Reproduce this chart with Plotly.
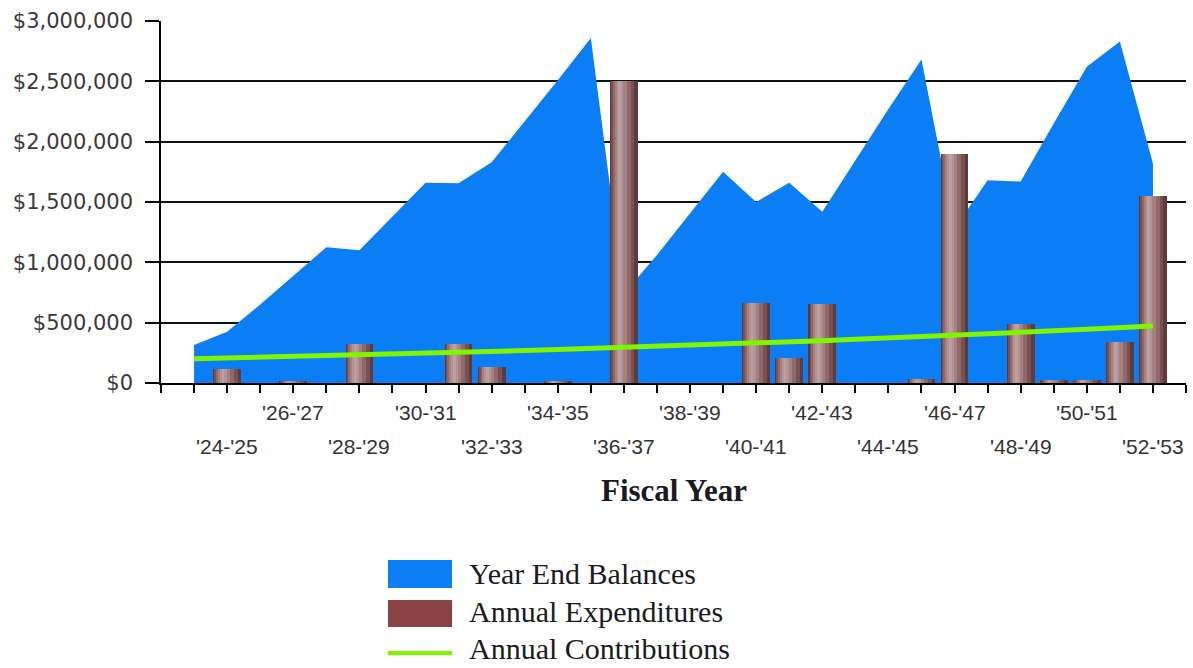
import plotly.graph_objects as go

# Fiscal years '23-'24 .. '52-'53
years = ["'%02d-'%02d" % (y, y + 1) for y in range(23, 53)]

balances = [315000, 425000, 650000, 890000, 1125000, 1100000, 1380000, 1660000,
            1655000, 1830000, 2170000, 2510000, 2860000, 740000, 1060000, 1410000,
            1750000, 1500000, 1660000, 1420000, 1845000, 2270000, 2680000, 1280000,
            1680000, 1670000, 2150000, 2620000, 2830000, 1820000]

expenditures = [0, 120000, 0, 12000, 0, 320000, 0, 0, 320000, 135000, 0, 15000,
                0, 2500000, 0, 0, 0, 665000, 205000, 655000, 0, 0, 30000, 1900000,
                0, 490000, 28000, 28000, 340000, 1550000]

contributions = [200000, 206000, 212000, 219000, 225000, 232000, 239000, 246000,
                 253000, 261000, 269000, 277000, 285000, 294000, 303000, 312000,
                 321000, 331000, 341000, 351000, 362000, 372000, 384000, 395000,
                 407000, 419000, 432000, 445000, 458000, 472000]

y_ticks = [0, 500000, 1000000, 1500000, 2000000, 2500000, 3000000]
y_tick_text = ["$0", "$500,000", "$1,000,000", "$1,500,000", "$2,000,000",
               "$2,500,000", "$3,000,000"]

xs = list(range(len(years)))

W, H = 1193, 668
PL, PR, PT, PB = 161, 1186, 21, 383


def px_x(p):
    return (p - PL) / (PR - PL)


def px_y(p):
    return (PB - p) / (PB - PT)


BLUE = "#0B7DF5"
GREEN = "#7FF500"
BROWN = "#8B4444"

fig = go.Figure()

# Year end balances: filled area on the base axes
fig.add_trace(go.Scatter(
    x=xs, y=balances, mode="lines", fill="tozeroy",
    line=dict(width=0, color=BLUE), fillcolor=BLUE,
    name="Year End Balances", showlegend=False, xaxis="x", yaxis="y"))

# Annual expenditures: cylinder-like bars built from stacked shading layers
bw = 0.84
layers = [
    (0.00, 1.00, "#5E3B3B"),
    (0.04, 0.88, "#785050"),
    (0.10, 0.74, "#8F6969"),
    (0.17, 0.60, "#A48181"),
    (0.24, 0.48, "#B39393"),
    (0.30, 0.40, "#BD9F9F"),
]
for i, (start, end, col) in enumerate(layers):
    fig.add_trace(go.Bar(
        x=xs, y=expenditures, width=bw * (end - start),
        offset=-bw / 2 + bw * start, marker=dict(color=col, line=dict(width=0)),
        name="Annual Expenditures", showlegend=False,
        xaxis="x2", yaxis="y2"))

# Annual contributions line
fig.add_trace(go.Scatter(
    x=xs, y=contributions, mode="lines", line=dict(color=GREEN, width=5),
    name="Annual Contributions", showlegend=False, xaxis="x2", yaxis="y2"))

xrange = [-1, len(years)]
yrange = [0, 3000000]

annotations = []
# staggered fiscal-year labels, every second year
for idx in range(1, len(years), 2):
    upper = (idx % 4) == 3
    annotations.append(dict(
        x=idx, y=px_y(413 if upper else 446), xref="x", yref="paper",
        text=years[idx], showarrow=False, xanchor="center", yanchor="middle",
        font=dict(family="Liberation Sans, Arial", size=21, color="#333333")))

annotations.append(dict(
    x=0.5, y=px_y(490), xref="paper", yref="paper", text="Fiscal Year",
    showarrow=False, xanchor="center", yanchor="middle",
    font=dict(family="Liberation Serif, Times New Roman", size=31,
              color="#1a1a22", weight="bold")))

# legend
legend_rows = [("Year End Balances", 573), ("Annual Expenditures", 611),
               ("Annual Contributions", 648)]
shapes = [
    dict(type="rect", xref="paper", yref="paper", x0=px_x(388), x1=px_x(452),
         y0=px_y(588), y1=px_y(560), fillcolor=BLUE, line=dict(width=0)),
    dict(type="rect", xref="paper", yref="paper", x0=px_x(388), x1=px_x(452),
         y0=px_y(627), y1=px_y(600), fillcolor=BROWN, line=dict(width=0)),
    dict(type="line", xref="paper", yref="paper", x0=px_x(388), x1=px_x(452),
         y0=px_y(653), y1=px_y(653), line=dict(color=GREEN, width=4)),
]
for label, cy in legend_rows:
    annotations.append(dict(
        x=px_x(468), y=px_y(cy), xref="paper", yref="paper", text=label,
        showarrow=False, xanchor="left", yanchor="middle", borderpad=0,
        font=dict(family="Liberation Serif, Times New Roman", size=30,
                  color="#1a1a22")))

fig.update_layout(
    width=W, height=H,
    margin=dict(l=PL, r=W - PR, t=PT, b=H - PB, autoexpand=False),
    paper_bgcolor="white", plot_bgcolor="white",
    barmode="overlay", bargap=0,
    showlegend=False,
    xaxis=dict(range=xrange, tick0=-1, dtick=1, ticks="outside", ticklen=8,
               tickwidth=1.5, tickcolor="black", showticklabels=False,
               showgrid=False, zeroline=False, showline=True,
               linecolor="black", linewidth=1.5, fixedrange=True),
    yaxis=dict(range=yrange, tickvals=y_ticks, ticktext=y_tick_text,
               ticks="outside", ticklen=14, tickwidth=1.5, tickcolor="black",
               ticklabelstandoff=8,
               tickfont=dict(family="DejaVu Sans", size=21, color="#3a3a3a"),
               showgrid=True, gridcolor="#111111", gridwidth=1.6,
               zeroline=False, showline=True, linecolor="black",
               linewidth=1.5, fixedrange=True),
    xaxis2=dict(range=xrange, overlaying="x", anchor="y2", visible=False,
                fixedrange=True),
    yaxis2=dict(range=yrange, overlaying="y", anchor="x2", visible=False,
                fixedrange=True),
    annotations=annotations,
    shapes=shapes,
)

fig.write_html("out.html")
